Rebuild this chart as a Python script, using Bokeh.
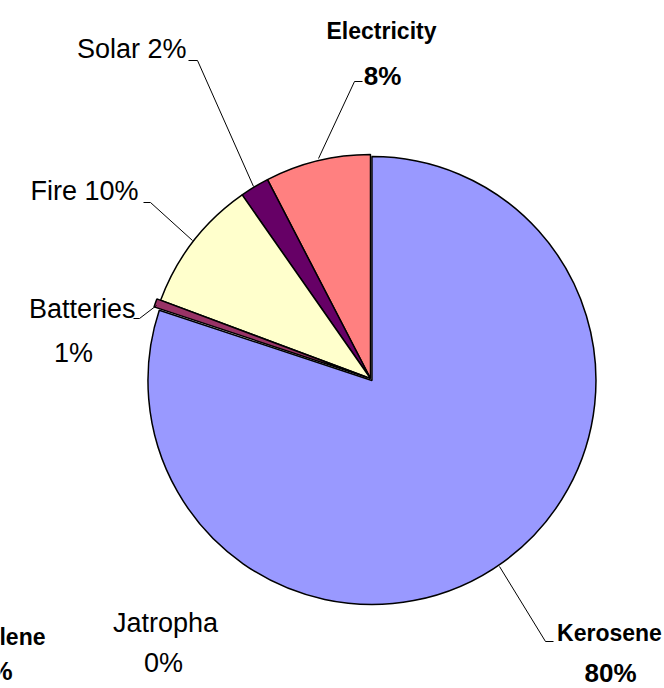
import numpy as np
from bokeh.plotting import figure
from bokeh.models import ColumnDataSource, Range1d
from bokeh.core.properties import value
from bokeh.embed import file_html
from bokeh.resources import INLINE

# ---- data ----
categories = ["Electricity", "Solar", "Fire", "Batteries", "Kerosene"]
shares = [7.6, 2.1, 9.6, 0.6, 80.0]          # percent
pct_labels = ["8%", "2%", "10%", "1%", "80%"]
colors = ["#FF8080", "#660066", "#FFFFCC", "#993366", "#9999FF"]
zero_categories = ["Jatropha", "Gasolene"]
zero_labels = ["0%", "0%"]

W, H = 664, 688
CX, CY, R = 370, 378, 224          # pie centre / radius (pixels, y from top)
explode = [0, 0, 0, 4, 2.5]


def Y(y):
    return H - y


p = figure(width=W, height=H, x_range=Range1d(0, W), y_range=Range1d(0, H),
           x_axis_type=None, y_axis_type=None, toolbar_location=None,
           output_backend="svg", min_border=0, outline_line_color=None,
           background_fill_color="white", border_fill_color="white")
p.grid.visible = False

vals = np.array(shares, dtype=float)
frac = vals / vals.sum()
start = np.pi / 2 + 2 * np.pi * np.concatenate([[0], np.cumsum(frac)[:-1]])
end = start + 2 * np.pi * frac
mid = (start + end) / 2
ex = np.array(explode, dtype=float)
xs = CX + ex * np.cos(mid)
ys = Y(CY) + ex * np.sin(mid)

src = ColumnDataSource(dict(x=xs, y=ys, start=start, end=end, color=colors,
                            cat=categories))
p.wedge(x="x", y="y", radius=R, start_angle="start", end_angle="end",
        direction="anticlock", fill_color="color", line_color="black",
        line_width=1.5, source=src)

# ---- leader lines (pixel coords from top) ----
leaders = [
    [(188, 60), (197, 60), (253, 186)],          # Solar
    [(143, 202), (150, 202), (192, 240)],        # Fire
    [(133, 318), (139, 318), (156, 305)],        # Batteries
    [(362, 81), (354, 81), (318, 158)],          # Electricity
    [(553, 641), (545, 641), (499, 566)],        # Kerosene
]
p.multi_line(xs=[[pt[0] for pt in l] for l in leaders],
             ys=[[Y(pt[1]) for pt in l] for l in leaders],
             line_color="black", line_width=1)

reg_font = value("Liberation Sans")

# regular labels
reg = dict(
    x=[186, 138, 135, 73, 165, 163],
    y=[Y(48), Y(190), Y(308), Y(352), Y(622), Y(662)],
    text=[f"{categories[1]} {pct_labels[1]}", f"{categories[2]} {pct_labels[2]}",
          categories[3], pct_labels[3], zero_categories[0], zero_labels[0]],
    align=["right", "right", "right", "center", "center", "center"],
)
p.text(x="x", y="y", text="text", text_align="align", text_baseline="middle",
       text_font=reg_font, text_font_size="27px", text_color="black",
       source=ColumnDataSource(reg))

# bold category labels
bold = dict(
    x=[381, 609, 45],
    y=[Y(30), Y(632), Y(636)],
    text=[categories[0], categories[4], zero_categories[1]],
    align=["center", "center", "right"],
)
p.text(x="x", y="y", text="text", text_align="align", text_baseline="middle",
       text_font=reg_font, text_font_style="bold", text_font_size="23px",
       text_color="black", source=ColumnDataSource(bold))

# bold percentage labels
boldp = dict(
    x=[382, 610, 12],
    y=[Y(75), Y(672), Y(670)],
    text=[pct_labels[0], pct_labels[4], zero_labels[1]],
    align=["center", "center", "right"],
)
p.text(x="x", y="y", text="text", text_align="align", text_baseline="middle",
       text_font=reg_font, text_font_style="bold", text_font_size="26px",
       text_color="black", source=ColumnDataSource(boldp))

open("out.html", "w").write(file_html(p, INLINE))
